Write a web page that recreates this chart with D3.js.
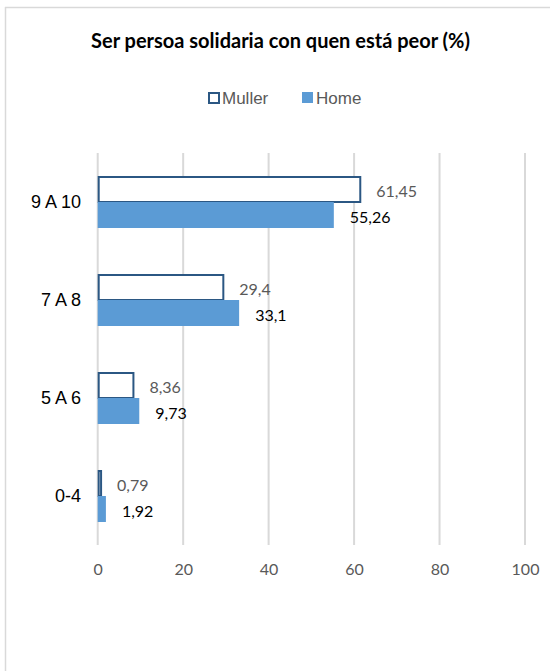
<!DOCTYPE html>
<html>
<head>
<meta charset="utf-8">
<script src="https://cdn.jsdelivr.net/npm/d3@7/dist/d3.min.js"></script>
<style>
  html, body { margin: 0; padding: 0; background: #fff; }
  svg { display: block; }
</style>
</head>
<body>
<script>
const categories = ["9 A 10", "7 A 8", "5 A 6", "0-4"];
const mullerValues = [61.45, 29.4, 8.36, 0.79];
const homeValues = [55.26, 33.1, 9.73, 1.92];
const mullerLabels = ["61,45", "29,4", "8,36", "0,79"];
const homeLabels = ["55,26", "33,1", "9,73", "1,92"];
const xTicks = [0, 20, 40, 60, 80, 100];
const seriesNames = ["Muller", "Home"];
const title = "Ser persoa solidaria con quen está peor (%)";

const W = 550, H = 671;
const svg = d3.select("body").append("svg").attr("width", W).attr("height", H);

const font = "'Liberation Sans', Arial, sans-serif";
const numFont = "Lato, 'Open Sans', sans-serif";
const darkBlue = "#2B5783";
const lightBlue = "#5B9BD5";
const grid = "#D9D9D9";
const grey = "#595959";

// chart border (only top and left visible)
svg.append("line").attr("x1", 5).attr("x2", W).attr("y1", 7.5).attr("y2", 7.5)
  .attr("stroke", grid).attr("stroke-width", 1.5);
svg.append("line").attr("x1", 5.5).attr("x2", 5.5).attr("y1", 7).attr("y2", H)
  .attr("stroke", grid).attr("stroke-width", 1.5);

// title
const t = svg.append("text").attr("x", 280.5).attr("y", 48)
  .attr("text-anchor", "middle").attr("font-family", "Lato, 'Open Sans', sans-serif")
  .attr("font-weight", "bold").attr("font-size", 16).attr("fill", "#000").text(title);
const tw = t.node().getComputedTextLength();
t.attr("font-size", 16 * 379 / tw);

const x = d3.scaleLinear().domain([0, 100]).range([97.7, 525]);
const y = d3.scaleBand().domain(categories).range([153, 545])
  .paddingInner(46 / 98).paddingOuter(23 / 98);
const sub = d3.scaleBand().domain(seriesNames).range([0, y.bandwidth()]);

// gridlines
svg.append("g").selectAll("line").data(xTicks).join("line")
  .attr("x1", d => x(d)).attr("x2", d => x(d))
  .attr("y1", 153).attr("y2", 545)
  .attr("stroke", grid).attr("stroke-width", 2);

// x axis labels
const xAxis = d3.axisBottom(x).tickValues(xTicks).tickSize(0).tickPadding(0)
  .tickFormat(d3.format("d"));
const gx = svg.append("g").attr("transform", "translate(0,564)").call(xAxis);
gx.select(".domain").remove();
gx.selectAll("text").attr("font-family", numFont).attr("font-size", 16).attr("fill", grey);

// category labels
const yAxis = d3.axisLeft(y).tickSize(0).tickPadding(0);
const gy = svg.append("g").attr("transform", "translate(81,0)").call(yAxis);
gy.select(".domain").remove();
gy.selectAll("text").attr("font-family", font).attr("font-size", 18).attr("fill", "#000")
  .attr("dy", "0.36em");

// bars
const rows = categories.map((c, i) => ({ c, m: mullerValues[i], h: homeValues[i], ml: mullerLabels[i], hl: homeLabels[i] }));

svg.append("g").selectAll("rect").data(rows).join("rect")
  .attr("x", x(0) + 1)
  .attr("y", d => y(d.c) + sub("Muller") + 1)
  .attr("width", d => Math.max(0, x(d.m) - x(0) - 1))
  .attr("height", sub.bandwidth() - 1)
  .attr("fill", "#fff").attr("stroke", darkBlue).attr("stroke-width", 2);

svg.append("g").selectAll("rect").data(rows).join("rect")
  .attr("x", x(0))
  .attr("y", d => y(d.c) + sub("Home"))
  .attr("width", d => x(d.h) - x(0))
  .attr("height", sub.bandwidth())
  .attr("fill", lightBlue);

// data labels
svg.append("g").selectAll("text").data(rows).join("text")
  .attr("x", d => x(d.m) + 16)
  .attr("y", d => y(d.c) + sub("Muller") + sub.bandwidth() / 2 + 8)
  .attr("font-family", numFont).attr("font-size", 16).attr("fill", grey)
  .text(d => d.ml);

svg.append("g").selectAll("text").data(rows).join("text")
  .attr("x", d => x(d.h) + 16)
  .attr("y", d => y(d.c) + sub("Home") + sub.bandwidth() / 2 + 8)
  .attr("font-family", numFont).attr("font-size", 16).attr("fill", "#000")
  .text(d => d.hl);

// legend
const legendX = [208, 302];
const lg = svg.append("g");
seriesNames.forEach((s, i) => {
  if (s === "Muller") {
    lg.append("rect").attr("x", legendX[i] + 1).attr("y", 93).attr("width", 10).attr("height", 10)
      .attr("fill", "#fff").attr("stroke", darkBlue).attr("stroke-width", 2);
  } else {
    lg.append("rect").attr("x", legendX[i]).attr("y", 92).attr("width", 11).attr("height", 11)
      .attr("fill", lightBlue);
  }
  lg.append("text").attr("x", legendX[i] + 14).attr("y", 104)
    .attr("font-family", font).attr("font-size", 17).attr("fill", grey).text(s);
});
</script>
</body>
</html>
